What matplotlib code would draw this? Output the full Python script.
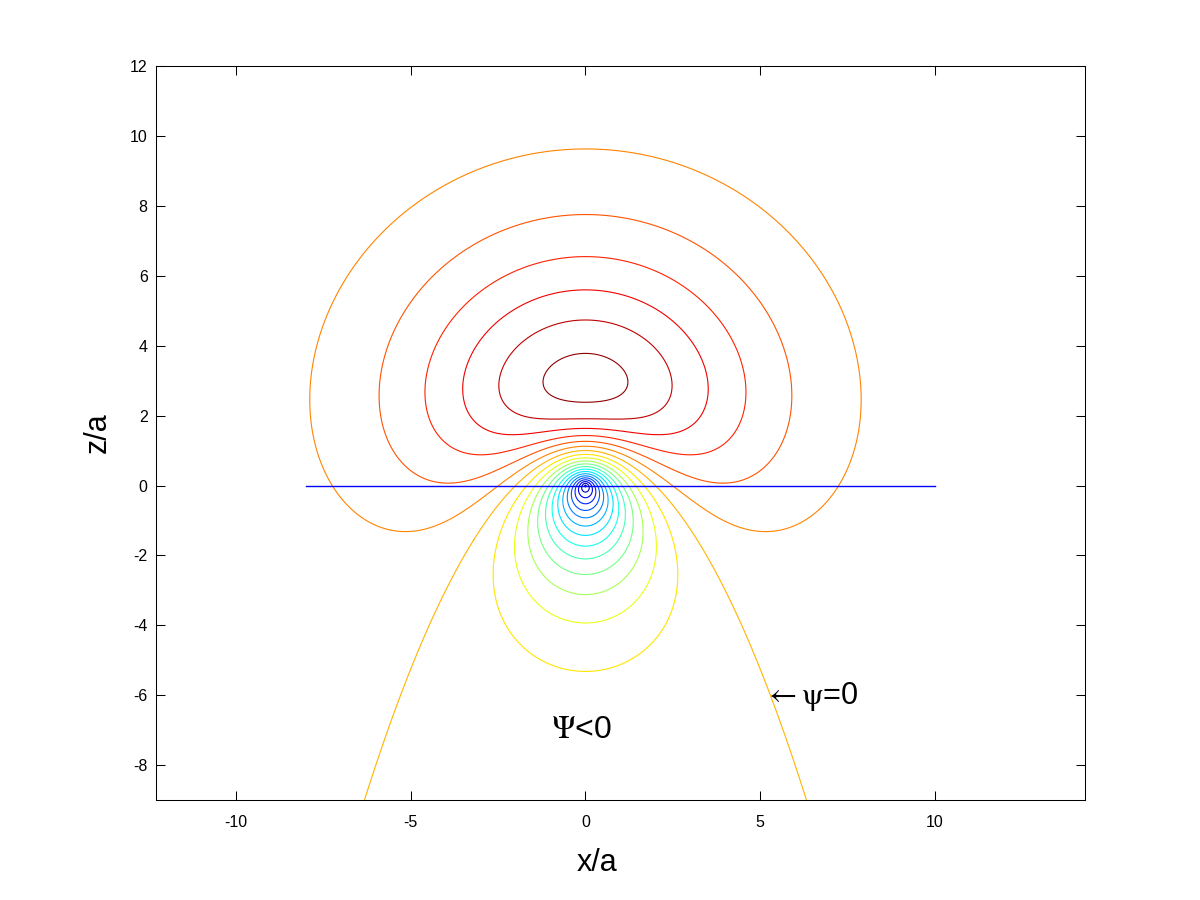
import matplotlib
matplotlib.use('Agg')
import matplotlib.pyplot as plt
from matplotlib.colors import ListedColormap
import numpy as np

plt.rcParams['font.family'] = ['Liberation Sans', 'DejaVu Sans']
plt.rcParams['mathtext.fontset'] = 'stix'
plt.rcParams['axes.unicode_minus'] = False

# stream function psi = (r + z - shift) * exp(-r / decay), r = sqrt(x^2 + z^2)
shift = 2.0
decay = 2.0

# contour levels (step 0.14) and colour range of the field
levels = [-1.96, -1.82, -1.68, -1.54, -1.40, -1.26, -1.12, -0.98, -0.84, -0.70,
          -0.56, -0.42, -0.28, -0.14, 0.0, 0.14, 0.28, 0.42, 0.56, 0.70, 0.84]
color_range = [-2.0, 0.8925]

# grid extent
x_span = [-8, 10]
z_span = [-9, 12]

# horizontal blue line
line_x = [-8, 10]
line_z = [0, 0]

xticks = [-10, -5, 0, 5, 10]
zticks = [-8, -6, -4, -2, 0, 2, 4, 6, 8, 10, 12]

# octave style jet, 64 colours
t = np.linspace(0, 1, 64)
jet64 = np.stack([np.clip(1.5 - np.abs(4 * t - 3), 0, 1),
                  np.clip(1.5 - np.abs(4 * t - 2), 0, 1),
                  np.clip(1.5 - np.abs(4 * t - 1), 0, 1)], axis=1)
cmap = ListedColormap(jet64)

fig = plt.figure(figsize=(12, 9), dpi=100)
ax = fig.add_axes([0.13, 0.111, 0.774, 0.8156])

x = np.linspace(x_span[0], x_span[1], 901)
z = np.linspace(z_span[0], z_span[1], 1051)
X, Z = np.meshgrid(x, z)
R = np.hypot(X, Z)
psi = (R + Z - shift) * np.exp(-R / decay)

ax.contour(X, Z, psi, levels=levels, cmap=cmap,
           vmin=color_range[0], vmax=color_range[1],
           linewidths=0.8, linestyles='solid')
ax.plot(line_x, line_z, color='blue', lw=1.0)

ax.text(-1.0, -7.0, r'$\Psi$<0', fontsize=23, va='center', ha='left')
ax.text(5.1, -6.05, r'$\leftarrow\mathrm{\psi}$=0', fontsize=22,
        va='center', ha='left')

ax.set_xlim(-12.29, 14.29)
ax.set_ylim(-9, 12)
ax.set_xticks(xticks)
ax.set_yticks(zticks)
ax.tick_params(direction='in', length=6.5, width=0.75, top=True, right=True,
               labelsize=11.5)
ax.tick_params(axis='x', pad=11)
ax.tick_params(axis='y', pad=6)
for sp in ax.spines.values():
    sp.set_linewidth(0.75)

ax.set_xlabel('x/a', fontsize=22)
ax.xaxis.set_label_coords(0.475, -0.065)
ax.set_ylabel('z/a', fontsize=22, labelpad=12)

fig.savefig('out.png', dpi=100)
